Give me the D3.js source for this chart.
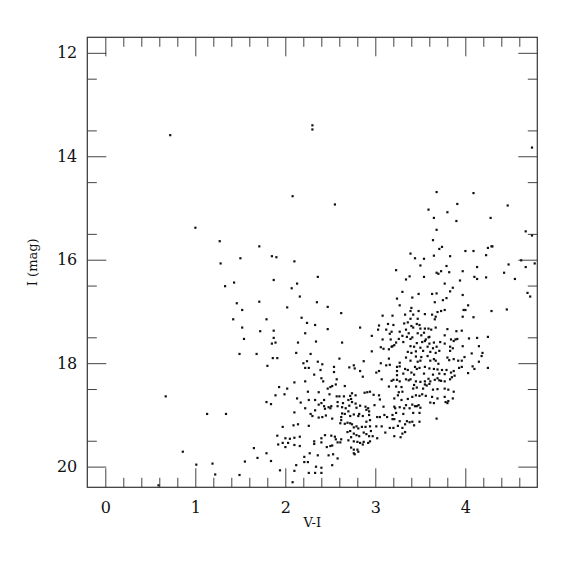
<!DOCTYPE html>
<html>
<head>
<meta charset="utf-8">
<script src="https://cdn.jsdelivr.net/npm/d3@7/dist/d3.min.js"></script>
<style>
  body { margin: 0; background: #fff; }
  text { font-family: "DejaVu Serif", "Liberation Serif", serif; fill: #111; }
</style>
</head>
<body>
<svg id="mainSvg"></svg>
<script>
var WIDTH = 575;
var HEIGHT = 575;
var LEFT = 87.3, RIGHT = 537.3, TOP = 37.3, BOTTOM = 487.3;

// axis ranges and labels
var X_DOMAIN = [-0.2, 4.8];
var Y_DOMAIN = [11.7, 20.4];
var X_TICKS = [0, 1, 2, 3, 4];
var Y_TICKS = [12, 14, 16, 18, 20];
var X_LABEL = "V-I";
var Y_LABEL = "I (mag)";

var sparseStars = [
  [0.72,13.59],[2.30,13.40],[2.30,13.48],[0.67,18.64],[0.86,19.71],[1.01,19.96],[1.19,19.94],
  [1.22,20.15],[1.49,20.16],[1.55,19.90],[1.65,19.64],[1.69,19.83],[0.59,20.36],[1.13,18.98],
  [1.34,18.98],[4.74,13.83],[2.08,14.77],[2.55,14.93]
];
var blueStars = [
  [1.00,15.38],[1.27,15.64],[1.71,15.74],[1.85,15.93],[1.90,15.95],[1.50,15.97],[1.28,16.07],
  [1.87,16.39],[1.43,16.44],[1.33,16.51],[1.71,16.81],[1.46,16.84],[1.52,16.97],[1.42,17.15],
  [1.79,17.15],[1.52,17.31],[1.72,17.38],[1.87,17.37],[1.87,17.51],[1.54,17.53],[1.85,17.62],
  [1.89,17.60],[1.49,17.82],[1.68,17.82],[1.86,17.90],[1.91,17.90],[1.80,18.05],[1.93,18.46],
  [1.89,18.62]
];
var middleStars = [
  [2.10,16.03],[2.36,16.33],[2.13,16.46],[2.07,16.55],[2.16,16.71],[2.35,16.82],[2.02,16.92],
  [2.47,16.91],[2.62,17.03],[2.18,17.12],[2.24,17.22],[2.33,17.26],[2.47,17.34],[2.83,17.31],
  [2.22,17.42],[2.14,17.60],[2.34,17.58],[2.63,17.60],[2.12,17.80],[2.28,17.82],
  [3.08,17.08],[3.19,17.08],[3.04,17.27],[3.14,17.24],[3.20,17.26],[3.03,17.35],[3.12,17.35],
  [3.18,17.39],[3.16,17.43],[2.96,17.47],[3.08,17.54],[3.17,17.54],[3.19,17.67],[3.21,17.65],
  [3.06,17.69],[3.09,17.72],[3.15,17.73],[3.18,17.68],[2.96,17.77]
];
var giantStars = [
  [3.68,14.69],[4.09,14.71],[3.91,14.92],[3.59,15.03],[3.80,15.08],[4.47,14.95],[3.65,15.19],
  [4.28,15.19],[3.90,15.25],[3.68,15.42],[3.64,15.62],[3.74,15.75],[3.71,15.79],[3.39,15.88],
  [3.44,15.97],[3.54,15.98],[3.65,15.92],[3.83,15.93],[4.00,15.83],[4.09,15.83],[4.23,15.91],
  [4.25,15.77],[4.29,15.74],[4.30,15.74],[4.67,15.45],[4.74,15.53],[3.50,16.11],[3.79,16.12],
  [4.13,16.14],[4.48,16.09],[4.62,16.01],[4.77,16.07],[4.67,16.14],[3.23,16.20],[3.38,16.32],
  [3.34,16.38],[3.54,16.33],[3.68,16.25],[3.70,16.27],[3.73,16.22],[3.82,16.24],[3.97,16.22],
  [4.10,16.33],[4.13,16.37],[4.23,16.34],[4.43,16.25],[4.55,16.37],[3.77,16.46],[3.94,16.40],
  [3.86,16.54],[3.83,16.61],[3.97,16.68],[3.30,16.62],[3.48,16.66],[3.63,16.66],[3.68,16.65],
  [3.24,16.75],[3.41,16.73],[3.66,16.82],[3.75,16.78],[3.79,16.74],[4.69,16.64],[4.72,16.71],
  [3.27,16.88],[4.03,16.88],[4.00,16.97],[3.98,16.97],[3.40,16.93],[3.39,16.99],[3.48,16.99],
  [3.69,17.01],[3.73,16.99],[3.77,16.97],[4.29,16.99],[4.46,16.96]
];
var clumpStars = [
  [3.33,17.06],[3.42,17.06],[3.55,17.05],[3.63,17.06],[3.67,17.10],[3.97,17.10],[4.09,17.11],
  [3.39,17.14],[3.47,17.14],[3.66,17.15],[3.36,17.21],[3.32,17.23],[3.46,17.24],[3.49,17.26],
  [3.40,17.28],[3.42,17.31],[3.34,17.35],[3.50,17.33],[3.55,17.33],[3.59,17.33],[3.62,17.35],
  [3.67,17.31],[3.80,17.34],[3.90,17.38],[3.96,17.37],[3.27,17.39],[3.37,17.42],[3.47,17.42],
  [3.54,17.41],[3.30,17.47],[3.35,17.49],[3.41,17.50],[3.51,17.46],[3.60,17.49],[3.77,17.46],
  [3.26,17.53],[3.39,17.53],[3.56,17.54],[3.59,17.50],[3.84,17.54],[3.89,17.54],[3.91,17.53],
  [4.04,17.52],[4.13,17.51],[4.25,17.49],[3.23,17.60],[3.31,17.59],[3.46,17.61],[3.52,17.59],
  [3.55,17.57],[3.60,17.62],[3.65,17.60],[3.72,17.59],[3.77,17.62],[3.87,17.57],[4.15,17.67],
  [3.97,17.67],[3.39,17.67],[3.43,17.68],[3.50,17.70],[3.58,17.68],[3.64,17.71],[3.68,17.68],
  [3.83,17.68],[3.86,17.71],[3.36,17.78],[3.40,17.80],[3.45,17.77],[3.53,17.76],[3.61,17.78],
  [3.67,17.80],[3.71,17.76],[3.83,17.76],[4.07,17.81],[4.19,17.80]
];
var redStars = [
  [3.34,17.89],[3.39,17.95],[3.45,17.87],[3.47,17.97],[3.50,17.95],[3.51,17.88],[3.58,17.86],
  [3.61,17.95],[3.65,17.92],[3.67,17.95],[3.70,18.01],[3.80,17.89],[3.82,17.94],[3.87,17.92],
  [3.92,17.95],[3.96,17.95],[3.99,17.88],[4.15,17.97],[4.18,17.86],[3.27,17.99],[3.24,18.07],
  [3.27,18.06],[3.24,18.15],[3.33,18.11],[3.36,18.13],[3.44,18.07],[3.46,18.11],[3.49,18.09],
  [3.55,18.07],[3.60,18.10],[3.65,18.11],[3.69,18.12],[3.74,18.13],[3.79,18.13],[3.87,18.15],
  [3.93,18.09],[3.96,18.07],[4.08,18.06],[4.10,18.11],[4.25,18.09],[4.03,18.19],[3.24,18.23],
  [3.31,18.20],[3.40,18.18],[3.43,18.22],[3.54,18.20],[3.64,18.22],[3.71,18.20],[3.77,18.21],
  [3.84,18.18],[3.88,18.24],[3.24,18.32],[3.27,18.35],[3.34,18.31],[3.37,18.33],[3.39,18.31],
  [3.45,18.35],[3.50,18.36],[3.55,18.35],[3.59,18.30],[3.61,18.35],[3.66,18.32],[3.69,18.29],
  [3.71,18.33],[3.73,18.34],[3.77,18.35],[3.83,18.31],[3.85,18.27],[3.55,18.41],[3.57,18.43],
  [3.60,18.40],[3.43,18.42],[3.23,18.45],[3.29,18.46],[3.42,18.49],[3.46,18.47],[3.53,18.49],
  [3.64,18.51],[3.69,18.50],[3.77,18.49],[3.81,18.51],[3.87,18.55],[3.26,18.56],[3.30,18.55],
  [3.25,18.62],[3.45,18.62],[3.49,18.63],[3.52,18.60],[3.56,18.63],[3.41,18.65],[3.63,18.65],
  [3.69,18.68],[3.77,18.65],[3.86,18.68],[3.29,18.71],[3.36,18.69],[3.61,18.76],[3.65,18.77],
  [3.78,18.75],[3.81,18.73],[3.80,18.77],[3.41,18.80],[3.44,18.83],[3.46,18.83],[3.48,18.81],
  [3.50,18.86],[3.38,18.87],[3.32,18.87],[3.27,18.85],[3.34,18.81],[3.23,18.96],[3.31,18.98],
  [3.42,18.96],[3.49,18.96],[3.68,19.07],[3.27,19.12],[3.35,19.12],[3.38,19.14],[3.41,19.13],
  [3.49,19.13],[3.43,19.20],[3.33,19.18],[3.25,19.21],[3.30,19.25],[3.33,19.33],[3.30,19.36],
  [3.28,19.43]
];
var faintStars = [
  [2.20,18.00],[2.24,17.96],[2.22,18.09],[2.26,18.09],[2.36,17.97],[2.41,18.02],[2.39,18.13],
  [2.54,18.07],[2.54,18.17],[2.60,17.91],[2.71,18.08],[2.76,18.04],[2.77,18.10],[2.83,18.15],
  [2.87,17.96],[2.32,18.22],[2.40,18.29],[2.42,18.35],[2.57,18.31],[2.86,18.26],[3.01,18.18],
  [3.04,18.15],[3.06,18.00],[3.12,18.04],[3.15,17.91],[3.16,18.03],[3.07,18.31],[3.18,18.34],
  [3.20,18.32],[3.15,18.45],[2.10,18.37],[2.22,18.35],[2.02,18.49],[1.99,18.60],[2.47,18.49],
  [2.50,18.46],[2.52,18.44],[2.56,18.41],[2.66,18.44],[2.25,18.55],[2.37,18.56],[2.49,18.60],
  [2.57,18.64],[2.60,18.64],[2.65,18.64],[2.74,18.58],[2.72,18.63],[2.78,18.62],[2.88,18.57],
  [2.91,18.56],[2.94,18.55],[2.98,18.61],[3.04,18.62],[3.05,18.70],[1.79,18.75],[1.84,18.79],
  [2.13,18.68],[2.17,18.76],[2.26,18.71],[2.33,18.71],[2.37,18.80],[2.40,18.77],[2.43,18.71],
  [2.43,18.83],[2.48,18.85],[2.44,18.88],[2.51,18.83],[2.58,18.75],[2.58,18.83],[2.63,18.85],
  [2.64,18.77],[2.70,18.71],[2.73,18.69],[2.74,18.75],[2.71,18.82],[2.67,18.87],[2.78,18.78],
  [2.83,18.82],[2.79,18.86],[2.89,18.84],[2.92,18.87],[2.93,18.93],[2.90,18.90],[2.99,18.81],
  [3.09,18.84],[3.21,18.84],[3.21,18.68],[2.10,18.95],[2.22,18.87],[2.28,18.98],[2.30,19.02],
  [2.37,19.05],[2.41,19.04],[2.33,18.91],[2.45,19.01],[2.50,18.87],[2.52,19.07],[2.63,18.97],
  [2.62,19.04],[2.62,19.10],[2.66,18.98],[2.70,18.93],[2.72,19.02],[2.76,18.99],[2.81,19.02],
  [2.82,18.98],[2.86,19.02],[2.93,19.00],[2.94,19.10],[3.02,19.04],[3.05,19.04],[3.10,19.00],
  [3.13,19.04],[3.19,19.00],[3.19,19.08],[3.21,19.08],[3.22,18.87],[2.61,19.16],[2.66,19.17],
  [2.69,19.15],[2.72,19.16],[2.74,19.18],[2.76,19.24],[2.79,19.22],[2.81,19.26],[2.85,19.23],
  [2.89,19.23],[2.90,19.13],[2.94,19.22],[3.01,19.22],[3.07,19.22],[3.16,19.25],[3.20,19.25],
  [3.21,19.41],[3.11,19.34],[2.95,19.31],[2.87,19.34],[2.90,19.37],[2.93,19.41],[2.97,19.41],
  [3.02,19.45],[2.69,19.33],[2.72,19.31],[2.76,19.36],[2.79,19.39],[2.82,19.41],[2.73,19.43],
  [2.70,19.49],[2.76,19.51],[2.80,19.52],[2.83,19.54],[2.87,19.52],[2.86,19.57],[2.92,19.54],
  [2.94,19.51],[2.73,19.63],[2.76,19.67],[2.80,19.67],[2.76,19.74],[2.77,19.76],[2.81,19.71],
  [2.44,19.39],[2.51,19.40],[2.55,19.42],[2.56,19.47],[2.58,19.53],[2.61,19.53],[2.62,19.47],
  [2.40,19.45],[2.32,19.51],[2.32,19.56],[2.40,19.53],[2.46,19.62],[2.50,19.60],[2.52,19.59],
  [2.48,19.78],[2.53,19.76],[2.58,19.84],[2.36,19.78],[2.27,19.74],[2.21,19.81],[2.21,19.91],
  [2.25,19.91],[2.12,19.97],[2.34,20.00],[2.40,20.02],[2.52,19.97],[2.26,20.12],[2.33,20.12],
  [2.40,20.12],[2.10,20.08],[1.94,20.07],[2.08,20.30],[1.97,19.23],[2.09,19.20],[2.14,19.18],
  [2.26,19.21],[1.91,19.40],[2.00,19.45],[2.05,19.46],[2.10,19.44],[2.16,19.42],[2.03,19.54],
  [1.97,19.54],[2.00,19.62],[1.92,19.57],[2.10,19.58],[2.16,19.60],[1.79,19.74],[1.84,19.89]
];

var stars = [].concat(sparseStars, blueStars, middleStars, giantStars, clumpStars, redStars, faintStars);

var svg = d3.select("#mainSvg")
  .attr("width", WIDTH)
  .attr("height", HEIGHT);

var x = d3.scaleLinear().domain(X_DOMAIN).range([LEFT, RIGHT]);
var y = d3.scaleLinear().domain(Y_DOMAIN).range([TOP, BOTTOM]);

var xMinor = d3.range(0, 48).map(function (i) { return -0.2 + i * 0.2; })
  .filter(function (v) { return v > -0.19 && v < 4.79 && Math.abs(v - Math.round(v)) > 0.01; });
var yMinor = d3.range(12.5, 20.01, 1);

var MAJOR = 19, MINOR = 9.5;

function styleAxis(g) {
  g.select(".domain").remove();
  g.selectAll(".tick line").attr("stroke", "#444").attr("stroke-width", 1);
  g.selectAll(".tick text").style("font-size", "16px").attr("fill", "#111");
}

// bottom
svg.append("g").attr("transform", "translate(0," + BOTTOM + ")")
  .call(d3.axisBottom(x).tickValues(X_TICKS).tickSize(-MAJOR).tickPadding(14).tickFormat(d3.format("d")))
  .call(styleAxis);
svg.append("g").attr("transform", "translate(0," + BOTTOM + ")")
  .call(d3.axisBottom(x).tickValues(xMinor).tickSize(-MINOR).tickFormat(""))
  .call(styleAxis);
// top
svg.append("g").attr("transform", "translate(0," + TOP + ")")
  .call(d3.axisTop(x).tickValues(X_TICKS).tickSize(-MAJOR).tickFormat(""))
  .call(styleAxis);
svg.append("g").attr("transform", "translate(0," + TOP + ")")
  .call(d3.axisTop(x).tickValues(xMinor).tickSize(-MINOR).tickFormat(""))
  .call(styleAxis);
// left
svg.append("g").attr("transform", "translate(" + LEFT + ",0)")
  .call(d3.axisLeft(y).tickValues(Y_TICKS).tickSize(-MAJOR).tickPadding(10).tickFormat(d3.format("d")))
  .call(styleAxis);
svg.append("g").attr("transform", "translate(" + LEFT + ",0)")
  .call(d3.axisLeft(y).tickValues(yMinor).tickSize(-MINOR).tickFormat(""))
  .call(styleAxis);
// right
svg.append("g").attr("transform", "translate(" + RIGHT + ",0)")
  .call(d3.axisRight(y).tickValues(Y_TICKS).tickSize(-MAJOR).tickFormat(""))
  .call(styleAxis);
svg.append("g").attr("transform", "translate(" + RIGHT + ",0)")
  .call(d3.axisRight(y).tickValues(yMinor).tickSize(-MINOR).tickFormat(""))
  .call(styleAxis);

// frame
svg.append("rect")
  .attr("x", LEFT).attr("y", TOP)
  .attr("width", RIGHT - LEFT).attr("height", BOTTOM - TOP)
  .attr("fill", "none").attr("stroke", "#333").attr("stroke-width", 1.2);

// stars
svg.append("g").selectAll("rect.star")
  .data(stars)
  .enter()
  .append("rect")
  .attr("class", "star")
  .attr("x", function (d) { return x(d[0]) - 1; })
  .attr("y", function (d) { return y(d[1]) - 1; })
  .attr("width", 2.2)
  .attr("height", 2.2)
  .attr("fill", "#111");

// axis titles
svg.append("text")
  .attr("x", (LEFT + RIGHT) / 2)
  .attr("y", 527)
  .attr("text-anchor", "middle")
  .style("font-size", "13px")
  .text(X_LABEL);

svg.append("text")
  .attr("transform", "translate(37," + ((TOP + BOTTOM) / 2) + ") rotate(-90)")
  .attr("text-anchor", "middle")
  .style("font-size", "13px")
  .text(Y_LABEL);
</script>
</body>
</html>
